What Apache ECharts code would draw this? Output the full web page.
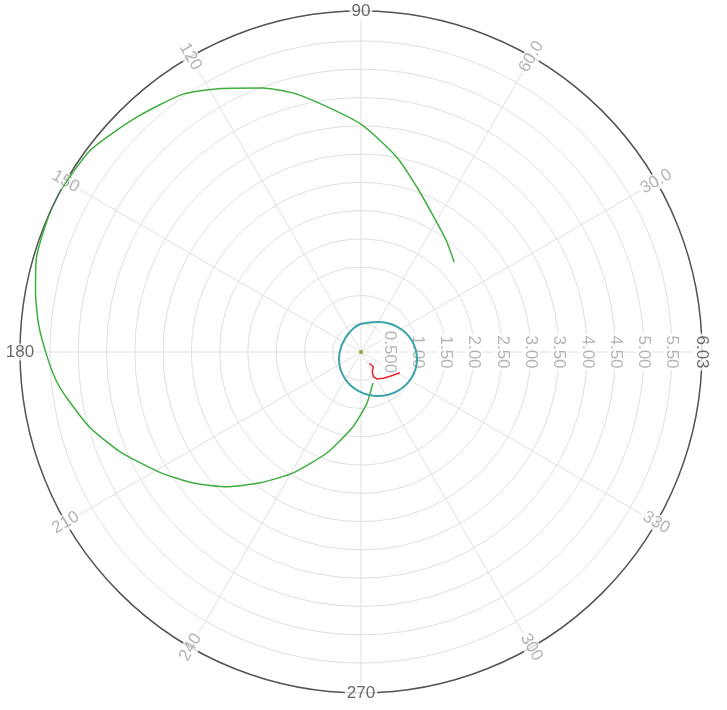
<!DOCTYPE html>
<html>
<head>
<meta charset="utf-8">
<script src="https://cdn.jsdelivr.net/npm/echarts@6/dist/echarts.min.js"></script>
<style>html,body{margin:0;padding:0;background:#fff}#c{width:727px;height:710px}</style>
</head>
<body>
<div id="c"></div>
<script>
// ---- data (radius, angle in degrees) ----
var greenAngle = [44.0, 52.5, 61.9, 71.3, 79.5, 90.2, 103.4, 110.4, 117.8, 124.6, 133.6, 143.3, 153.6, 164.2, 169.7, 175.2, 180.2, 185.2, 189.0, 195.7, 202.5, 211.0, 218.0, 225.2, 232.4, 240.7, 251.4, 263.9, 276.7, 291.0];
var greenR     = [2.29, 2.48, 2.72, 3.08, 3.50, 4.04, 4.67, 4.98, 5.27, 5.54, 5.74, 5.97, 6.04, 5.97, 5.85, 5.72, 5.57, 5.42, 5.26, 4.97, 4.61, 4.14, 3.76, 3.36, 2.92, 2.45, 1.88, 1.33, 0.91, 0.59];

var tealAngle = [2.7, 12.8, 23.3, 34.4, 46.7, 60.5, 76.5, 95.7, 118.9, 145.6, 172.9, 197.6, 218.7, 236.6, 252.3, 266.3, 279.2, 291.1, 302.4, 313.1, 323.4, 333.3, 343.1, 352.9, 362.7];
var tealR     = [0.968, 0.921, 0.858, 0.782, 0.698, 0.610, 0.530, 0.480, 0.405, 0.362, 0.368, 0.408, 0.469, 0.540, 0.616, 0.690, 0.766, 0.834, 0.895, 0.945, 0.982, 1.005, 1.010, 0.998, 0.968];

var redAngle = [306.3, 310.0, 299.8, 296.5, 300.2, 310.3, 322.3, 332.0];
var redR     = [0.247, 0.34, 0.40, 0.49, 0.55, 0.61, 0.685, 0.78];

var originR = [0];
var originAngle = [0];

// ---- axis ticks / labels ----
var radialMax = 6.03;
var radialTicks  = [0.5, 1.0, 1.5, 2.0, 2.5, 3.0, 3.5, 4.0, 4.5, 5.0, 5.5, 6.03];
var radialLabels = ['0.500', '1.00', '1.50', '2.00', '2.50', '3.00', '3.50', '4.00', '4.50', '5.00', '5.50', '6.03'];
var angleTicks  = [30, 60, 90, 120, 150, 180, 210, 240, 270, 300, 330];
var angleLabels = ['30.0', '60.0', '90', '120', '150', '180', '210', '240', '270', '300', '330'];

// ---- build ----
function pairs(rs, as) { return rs.map(function (r, i) { return [r, as[i]]; }); }
var darkSet = {'90': 1, '180': 1, '270': 1, '6.03': 1};
var FONT = 'Liberation Sans';

var labelData = [];
angleTicks.forEach(function (a, i) {
  var rot;
  if (a === 90 || a === 270) rot = 0;
  else if (a > 90 && a < 270) rot = a - 180;
  else if (a < 90) rot = a;
  else rot = a - 360;
  var txt = angleLabels[i];
  labelData.push({
    value: [radialMax, a, txt],
    label: {rotate: rot, color: darkSet[txt] ? '#444' : '#a0a0a0'}
  });
});
radialTicks.forEach(function (r, i) {
  var txt = radialLabels[i];
  labelData.push({
    value: [r, 0, txt],
    label: {rotate: -90, color: darkSet[txt] ? '#444' : '#a0a0a0'}
  });
});

// split line colours: hide the 6.0 ring so only the outer 6.03 ring shows
var ringColors = [];
for (var k = 0; k < 14; k++) ringColors.push(k === 12 ? 'rgba(0,0,0,0)' : '#e0e0e0');

var chart = echarts.init(document.getElementById('c'), null, {renderer: 'canvas'});
chart.setOption({
  animation: false,
  backgroundColor: '#fff',
  polar: {center: [361, 352], radius: 341},
  angleAxis: {
    type: 'value', min: 0, max: 360, interval: 30,
    startAngle: 0, clockwise: false,
    axisLine: {show: true, lineStyle: {color: '#555', width: 1.5}},
    axisTick: {show: false},
    axisLabel: {show: false},
    splitLine: {show: true, lineStyle: {color: '#e0e0e0', width: 1}}
  },
  radiusAxis: {
    type: 'value', min: 0, max: radialMax, interval: 0.5,
    axisLine: {show: false}, axisTick: {show: false}, axisLabel: {show: false},
    splitLine: {show: true, lineStyle: {color: ringColors, width: 1}}
  },
  series: [
    {
      type: 'scatter', coordinateSystem: 'polar', z: 1, silent: true,
      symbolSize: 1, itemStyle: {color: 'rgba(0,0,0,0)'},
      data: labelData,
      label: {
        show: true, position: 'inside',
        formatter: function (p) { return p.value[2]; },
        fontFamily: FONT, fontSize: 17,
        backgroundColor: '#fff', padding: [0, 2]
      }
    },
    {
      type: 'line', coordinateSystem: 'polar', z: 3, smooth: 0.2,
      data: pairs(greenR, greenAngle), showSymbol: false,
      lineStyle: {color: '#3fae3f', width: 1.5}
    },
    {
      type: 'line', coordinateSystem: 'polar', z: 3, smooth: 0.5,
      data: pairs(tealR, tealAngle), showSymbol: false,
      lineStyle: {color: '#3ba3aa', width: 2}
    },
    {
      type: 'line', coordinateSystem: 'polar', z: 3,
      data: pairs(redR, redAngle), showSymbol: false,
      lineStyle: {color: '#e8262a', width: 1.5}
    },
    {
      type: 'scatter', coordinateSystem: 'polar', z: 3,
      data: pairs(originR, originAngle), symbolSize: 4,
      itemStyle: {color: '#8c8c10'}
    }
  ]
});
</script>
</body>
</html>
